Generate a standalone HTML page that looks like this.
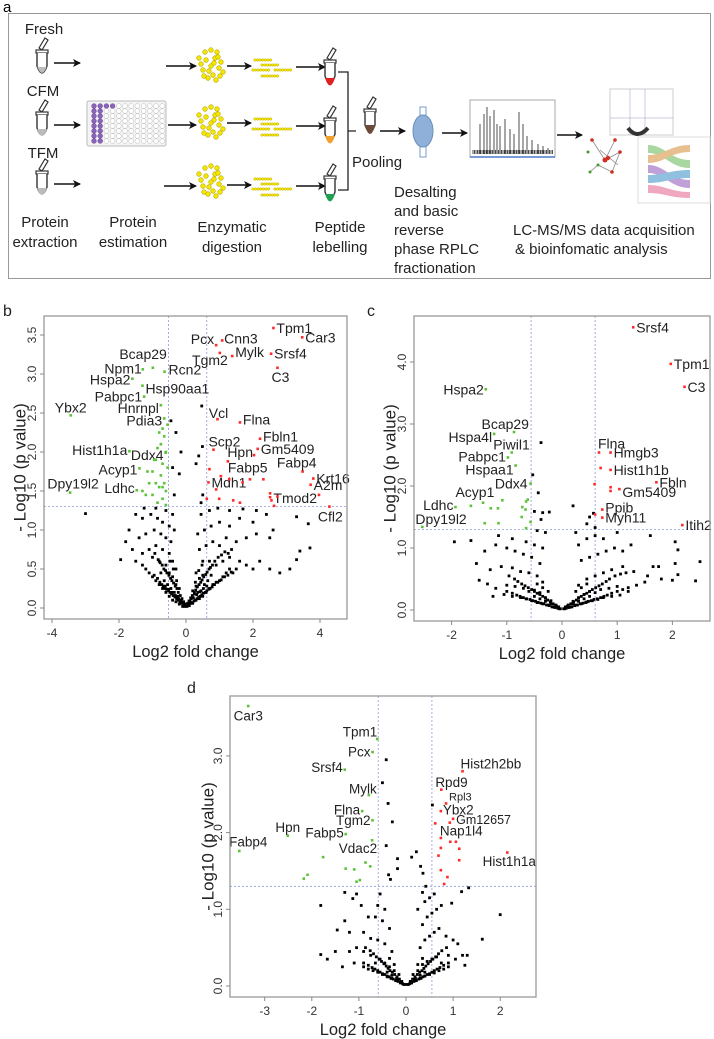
<!DOCTYPE html>
<html><head><meta charset="utf-8">
<style>
html,body{margin:0;padding:0;background:#fff;}
svg{display:block;font-family:"Liberation Sans",sans-serif;}
</style></head>
<body>
<svg id="fig" width="714" height="1039" viewBox="0 0 714 1039" xmlns="http://www.w3.org/2000/svg">
<defs>
<marker id="ah" markerWidth="8" markerHeight="8" refX="7" refY="4" orient="auto" markerUnits="userSpaceOnUse"><path d="M0,0 L8,4 L0,8 L2,4 z" fill="#111"/></marker>
<g id="tube"><path d="M-3,-14 l6,-10 l3,2 l-6,10 z" fill="#fff" stroke="#333" stroke-width="1.2"/><rect x="-6" y="-12" width="12" height="3" fill="#fff" stroke="#333" stroke-width="1.2"/><path d="M-5,-9 L-5,4 Q0,18 5,4 L5,-9" fill="#fff" stroke="#333" stroke-width="1.4"/></g>
</defs>
<g>
<text x="3" y="12" font-size="15">a</text>
<rect x="8.5" y="13.5" width="702" height="265" fill="none" stroke="#999" stroke-width="1"/>
<g font-size="15" fill="#222" text-anchor="middle">
<text x="44" y="34">Fresh</text>
<text x="43" y="96">CFM</text>
<text x="43" y="158">TFM</text>
<text x="45" y="227"><tspan x="45">Protein</tspan><tspan x="45" dy="20">extraction</tspan></text>
<text x="133" y="227"><tspan x="133">Protein</tspan><tspan x="133" dy="20">estimation</tspan></text>
<text x="232" y="232"><tspan x="232">Enzymatic</tspan><tspan x="232" dy="20">digestion</tspan></text>
<text x="340" y="232"><tspan x="340">Peptide</tspan><tspan x="340" dy="20">lebelling</tspan></text>
</g>
<g font-size="15" fill="#222">
<text x="352" y="167">Pooling</text>
<text x="394" y="197"><tspan x="394">Desalting</tspan><tspan x="394" dy="19">and basic</tspan><tspan x="394" dy="19">reverse</tspan><tspan x="394" dy="19">phase RPLC</tspan><tspan x="394" dy="19">fractionation</tspan></text>
<text x="513" y="235"><tspan x="513">LC-MS/MS data acquisition</tspan><tspan x="515" dy="19">&amp; bioinfomatic analysis</tspan></text>
</g>
<g>
<use href="#tube" x="42" y="62"/><path d="M37,67 L37,66 Q42,80 47,66 L47,67" fill="#bbb"/>
<use href="#tube" x="42" y="124"/><path d="M37,129 Q42,143 47,129 z" fill="#bbb"/>
<use href="#tube" x="42" y="183"/><path d="M37,188 Q42,202 47,188 z" fill="#bbb"/>
</g>
<g stroke="#111" stroke-width="1.6" marker-end="url(#ah)">
<line x1="54" y1="63" x2="80" y2="63"/><line x1="54" y1="125" x2="80" y2="125"/><line x1="54" y1="184" x2="80" y2="184"/>
<line x1="166" y1="66" x2="196" y2="66"/><line x1="168" y1="125" x2="196" y2="125"/><line x1="164" y1="186" x2="196" y2="186"/>
<line x1="227" y1="66" x2="251" y2="66"/><line x1="227" y1="123" x2="251" y2="123"/><line x1="227" y1="185" x2="251" y2="185"/>
<line x1="296" y1="67" x2="325" y2="67"/><line x1="296" y1="126" x2="325" y2="126"/><line x1="296" y1="186" x2="325" y2="186"/>
<line x1="380" y1="131" x2="405" y2="131"/><line x1="442" y1="133" x2="467" y2="133"/><line x1="557" y1="135" x2="582" y2="135"/>
</g>
<g>
<rect x="87" y="101" width="79" height="45" rx="2" fill="#f4f4f4" stroke="#bbb"/>
<g id="wells"></g>
</g>
<g id="proteins"></g>
<g id="peptides"></g>
<g>
<use href="#tube" x="330" y="72"/><path d="M325,78 Q330,93 335,78 z" fill="#e02020"/>
<use href="#tube" x="330" y="130"/><path d="M325,136 Q330,151 335,136 z" fill="#f0a030"/>
<use href="#tube" x="330" y="188"/><path d="M325,194 Q330,209 335,194 z" fill="#20a050"/>
</g>
<path d="M338,72 H348 V190 H338 M348,131 H356" fill="none" stroke="#222" stroke-width="1.3"/>
<g><use href="#tube" x="370" y="121"/><path d="M365,125 L365,126 Q370,142 375,126 L375,125 z" fill="#6b4a3a"/></g>
<g>
<rect x="420" y="107" width="6" height="10" fill="none" stroke="#7a9cc8"/><rect x="420" y="146" width="6" height="11" fill="none" stroke="#7a9cc8"/>
<ellipse cx="423" cy="131" rx="10" ry="16" fill="#8fb0d8" stroke="#6a8fc0"/>
</g>
<g>
<rect x="470" y="100" width="85" height="57" fill="#fff" stroke="#aaa"/>
<line x1="470" y1="157" x2="555" y2="157" stroke="#4a7ac8" stroke-width="1.5"/>
<g id="spec" stroke="#222" stroke-width="0.8"></g>
</g>
<g>
<path d="M592,140 L605,160 L620,152 L612,172 L598,165 L590,172 M605,160 L615,140 M600,150 L618,165" stroke="#888" fill="none" stroke-width="0.8"/>
<g fill="#d03020"><circle cx="592" cy="140" r="1.8"/><circle cx="605" cy="160" r="2.5"/><circle cx="620" cy="152" r="1.8"/><circle cx="612" cy="172" r="1.8"/><circle cx="615" cy="140" r="1.8"/><circle cx="608" cy="158" r="2.2"/></g>
<g fill="#4a9a30"><circle cx="590" cy="172" r="1.5"/><circle cx="598" cy="165" r="1.5"/><circle cx="588" cy="152" r="1.5"/></g>
</g>
<g>
<rect x="610" y="89" width="63" height="46" fill="#fff" stroke="#ccc"/>
<path d="M630,89 V135 M645,89 V135 M610,118 H673" stroke="#99c" stroke-width="0.5"/>
<path d="M628,128 Q637,140 648,128" stroke="#333" stroke-width="4" fill="none"/>
</g>
<g>
<rect x="638" y="137" width="72" height="66" fill="#fff" stroke="#ddd"/>
<path d="M648,145 C665,145 670,160 690,160 L690,168 C670,168 665,153 648,153z" fill="#a8d8a0"/>
<path d="M648,155 C665,155 670,145 690,145 L690,152 C670,152 665,163 648,163z" fill="#e8c090"/>
<path d="M648,165 C665,165 670,180 690,180 L690,188 C670,188 665,173 648,173z" fill="#c0a0d8"/>
<path d="M648,175 C665,175 670,170 690,170 L690,178 C670,178 665,183 648,183z" fill="#90c0e0"/>
<path d="M648,185 C665,185 670,192 690,192 L690,198 C670,198 665,193 648,193z" fill="#f0a8c0"/>
</g>
</g>

<g id="pb"></g>
<g id="pc"></g>
<g id="pd"></g>
</svg>
<script>
// ---------- Panel b data ----------
const bXTicks = [-4,-2,0,2,4];
const bYTicks = [0,0.5,1,1.5,2,2.5,3,3.5];
const bYTickLabels = ["0.0","0.5","1.0","1.5","2.0","2.5","3.0","3.5"];
const bUpNames = ["Tpm1","Car3","Pcx","Cnn3","Tgm2","Mylk","Srsf4","C3","Vcl","Flna","Fbln1","Gm5409","Scp2","Hpn","Fabp5","Fabp4","Krt16","A2m","Mdh1","Tmod2","Cfl2","","","","","","","","","","","","","","","",""];
const bUpX = [2.61,3.47,0.90,1.08,1.01,1.38,2.54,2.73,0.94,1.61,2.21,2.14,0.82,2.03,1.25,3.48,3.80,3.72,0.67,3.97,4.28,0.70,1.04,1.29,1.69,1.91,2.31,0.90,2.51,2.51,2.73,0.62,0.99,1.41,1.61,2.55,2.63];
const bUpY = [3.59,3.47,3.37,3.43,3.27,3.23,3.26,3.08,2.42,2.38,2.17,2.04,2.03,1.96,1.88,1.75,1.66,1.58,1.61,1.45,1.30,1.78,1.69,1.65,1.61,1.65,1.65,1.52,1.47,1.42,1.43,1.40,1.40,1.38,1.35,1.38,1.31];
const bDownNames = ["Bcap29","Npm1","Rcn2","Hspa2","Hsp90aa1","Pabpc1","Ybx2","Hnrnpl","Pdia3","Hist1h1a","Ddx4","Acyp1","Ldhc","Dpy19l2","","","","","","","","","","","","","","","","","","","","","","","","","",""];
const bDownX = [-0.99,-1.29,-0.64,-1.60,-1.30,-1.25,-3.44,-0.75,-0.65,-1.69,-0.61,-1.39,-1.47,-3.46,-0.7,-0.65,-0.8,-0.75,-0.85,-0.6,-0.9,-0.7,-0.55,-1.0,-0.75,-0.65,-0.9,-1.1,-0.8,-0.6,-1.0,-0.7,-0.85,-0.6,-1.2,-0.95,-0.55,-1.3,-1.15,-0.7];
const bDownY = [3.08,3.06,3.03,2.94,2.85,2.71,2.47,2.60,2.43,2.01,1.99,1.79,1.51,1.48,2.3,2.2,2.25,2.1,2.05,2.0,1.9,1.85,1.8,1.75,1.7,1.6,1.6,1.6,1.55,1.5,1.45,1.4,1.35,1.32,1.45,1.9,2.35,1.5,1.75,1.55];
const bNsX = [-0.1,0.1,-0.2,0.2,-0.3,0.3,-0.4,0.4,-0.5,0.5,-0.15,0.15,-0.25,0.25,-0.35,0.35,-0.45,0.45,-0.6,0.6,-0.7,0.7,-0.8,0.8,-0.55,0.55,-0.65,0.65,-0.9,0.9,-1.0,1.0,-0.3,0.3,-0.4,0.4,-0.5,0.5,-0.75,0.75,-1.1,1.1,-1.2,1.2,1.3,-1.3,1.4,1.5,-0.2,0.2,
 -0.6,-0.8,-1.0,-0.4,-0.5,-0.7,-0.9,-1.1,-1.3,-1.5,-1.6,-1.8,-1.95,-0.3,-0.45,-0.6,-0.75,-0.95,-1.2,-1.4,-1.7,-0.35,-0.5,-0.7,-0.85,-1.05,-1.3,-1.5,-0.4,-0.6,-0.9,-1.25,
 0.3,0.5,0.7,0.9,1.1,1.3,1.6,1.8,2.0,2.2,2.5,2.8,3.1,3.3,0.4,0.6,0.8,1.0,1.2,1.5,1.8,2.1,2.5,3.4,3.7,0.35,0.55,0.75,1.0,1.3,1.6,2.0,2.4,2.6,3.3,3.65,0.45,0.7,0.95,1.3,1.7,2.1,
 -0.45,0.47,0.49,0.38,-0.4,-0.15,-0.2,-0.3,-3.0,0.5,0.45,-0.35,0.3,
 -0.05,0.05,-0.12,0.12,-0.22,0.22,-0.32,0.32,-0.42,0.42,-0.52,0.52,-0.62,0.62,-0.28,0.28,-0.38,0.38,-0.48,0.48];
const bNsY = [0.02,0.03,0.05,0.06,0.08,0.1,0.1,0.12,0.15,0.15,0.1,0.12,0.15,0.18,0.2,0.2,0.25,0.22,0.2,0.2,0.25,0.25,0.3,0.3,0.3,0.3,0.35,0.35,0.35,0.33,0.4,0.35,0.3,0.28,0.4,0.38,0.45,0.42,0.45,0.42,0.45,0.4,0.5,0.45,0.5,0.55,0.45,0.5,0.25,0.22,
 0.55,0.6,0.65,0.6,0.7,0.75,0.8,0.75,0.7,0.6,0.75,0.85,0.62,0.5,0.85,0.9,0.95,1.0,0.95,0.9,1.0,1.0,1.05,1.1,1.15,1.2,1.15,1.2,1.2,1.25,1.28,1.28,
 0.45,0.6,0.6,0.55,0.6,0.65,0.6,0.55,0.5,0.6,0.5,0.45,0.5,0.62,0.75,0.8,0.85,0.8,0.9,0.85,0.9,0.95,0.9,0.73,0.77,0.95,1.0,1.05,1.1,1.05,1.15,1.1,1.2,1.0,1.17,1.08,1.2,1.25,1.28,1.25,1.27,1.25,
 2.4,2.59,2.07,1.95,1.8,2.0,1.72,2.25,1.21,1.45,1.35,1.45,1.85,
 0.05,0.06,0.08,0.09,0.12,0.13,0.16,0.17,0.2,0.21,0.24,0.25,0.28,0.28,0.35,0.33,0.5,0.48,0.6,0.55];
const bDenseX = [-0.95,-0.85,-0.78,-0.72,-0.68,-0.62,-0.58,-0.52,-0.47,-0.43,-0.38,-0.33,-0.28,-0.24,-0.18,-0.13,-0.08,-0.03,0.03,0.08,0.13,0.18,0.24,0.28,0.33,0.38,0.43,0.47,0.52,0.58,0.62,0.68,0.72,0.78,0.85,0.95,1.05,1.15,1.25,1.35,
 -0.93,-0.83,-0.77,-0.71,-0.66,-0.61,-0.57,-0.51,-0.46,-0.42,-0.37,-0.32,-0.27,-0.23,-0.17,-0.12,-0.07,-0.02,0.04,0.09,0.14,0.19,0.25,0.29,0.34,0.39,0.44,0.48,0.53,0.59,0.63,0.69,0.73,0.79,0.86,0.96,1.06,1.16,1.26,1.36];
const bDenseY = [0.42,0.38,0.33,0.3,0.28,0.25,0.24,0.22,0.2,0.18,0.16,0.14,0.12,0.1,0.08,0.06,0.04,0.02,0.02,0.04,0.06,0.07,0.09,0.1,0.12,0.14,0.15,0.17,0.19,0.2,0.22,0.24,0.25,0.27,0.3,0.33,0.36,0.4,0.42,0.46,
 0.7,0.62,0.58,0.55,0.5,0.48,0.45,0.42,0.38,0.35,0.32,0.28,0.25,0.2,0.16,0.12,0.08,0.05,0.05,0.09,0.13,0.16,0.2,0.23,0.27,0.3,0.33,0.36,0.4,0.43,0.46,0.5,0.52,0.55,0.6,0.65,0.68,0.72,0.7,0.75];

// ---------- Panel c data ----------
const cXTicks = [-2,-1,0,1,2];
const cYTicks = [0,1,2,3,4];
const cYTickLabels = ["0.0","1.0","2.0","3.0","4.0"];
const cUpNames = ["Srsf4","Tpm1","C3","Flna","Hmgb3","","Hist1h1b","Fbln","Gm5409","","","","Ppib","Myh11","","Itih2"];
const cUpX = [1.29,1.97,2.22,0.67,0.88,0.70,0.88,1.71,1.04,0.88,0.88,0.59,0.73,0.73,0.60,2.18];
const cUpY = [4.56,3.97,3.60,2.54,2.54,2.29,2.26,2.06,1.95,1.98,1.92,2.03,1.62,1.49,1.54,1.37];
const cDownNames = ["Hspa2","Bcap29","Hspa4l","Piwil1","Pabpc1","Hspaa1","Ddx4","Acyp1","Ldhc","Dpy19l2","","","","","","","","","","","","",""];
const cDownX = [-1.38,-0.87,-1.23,-0.91,-0.98,-0.84,-0.57,-1.65,-1.93,-2.53,-1.43,-1.29,-1.16,-1.08,-1.40,-1.15,-0.72,-0.65,-0.62,-0.73,-0.57,-0.65,-0.66];
const cDownY = [3.56,2.87,2.84,2.54,2.46,2.33,2.04,1.68,1.66,1.34,1.73,1.64,1.64,1.77,1.40,1.40,1.66,1.75,1.78,1.50,1.42,1.32,1.62];
const cNsX = [-0.38,-0.53,-0.43,0.20,-0.50,-0.35,-0.23,-0.38,0.57,0.45,0.60,0.5,
 -0.05,0.05,-0.15,0.15,-0.25,0.25,-0.35,0.35,-0.45,0.45,-0.55,0.55,-0.65,0.65,-0.75,0.75,-0.9,0.9,-1.05,1.05,-0.2,0.2,-0.3,0.3,-0.4,0.4,-0.5,0.5,-0.6,0.6,-0.7,0.7,-0.85,0.85,-1.0,1.0,-1.2,1.2,-1.35,1.35,-1.5,1.5,-0.35,0.3,-0.45,0.45,-0.6,0.6,-0.75,0.75,-0.9,0.9,-1.1,1.1,-1.3,1.3,-1.55,1.55,1.8,2.0,2.1,2.42,2.5,1.65,1.75,2.05,-1.25,-1.4,-0.4,-0.55,-0.7,-0.85,-1.0,-1.2,-1.65,-1.95,0.35,0.5,0.65,0.8,0.95,1.1,1.25,1.6,2.05,2.1,-0.35,-0.5,-0.65,-0.9,-1.15,0.3,0.45,0.6,0.75,1.0,-0.3,-0.45,0.25,
 -0.1,0.1,-0.2,0.2,-0.3,0.3,-0.4,0.4,-0.5,0.5,-0.25,0.25,-0.35,0.35,-0.45,0.45];
const cNsY = [2.70,2.18,1.89,1.68,1.59,1.57,1.58,1.46,1.56,1.39,1.33,1.5,
 0.02,0.02,0.05,0.05,0.08,0.08,0.1,0.1,0.12,0.13,0.15,0.15,0.18,0.17,0.2,0.2,0.22,0.22,0.25,0.24,0.15,0.14,0.2,0.2,0.28,0.25,0.32,0.3,0.3,0.28,0.35,0.33,0.38,0.35,0.4,0.38,0.35,0.3,0.42,0.4,0.48,0.45,0.45,0.4,0.55,0.5,0.6,0.55,0.62,0.6,0.68,0.65,0.7,0.7,0.65,0.62,0.75,0.55,0.5,0.48,0.57,0.47,0.78,0.7,0.7,0.75,0.22,0.95,0.75,0.85,0.9,0.95,1.0,1.05,1.12,1.1,0.8,0.85,0.9,0.95,1.0,0.95,1.05,1.2,1.1,0.97,1.0,1.05,1.1,1.15,1.2,1.05,1.15,1.2,1.15,1.25,1.25,1.28,1.25,
 0.06,0.06,0.1,0.1,0.14,0.14,0.18,0.18,0.22,0.22,0.3,0.3,0.36,0.36,0.42,0.42];
const cDenseX = [-1.0,-0.9,-0.82,-0.76,-0.7,-0.64,-0.58,-0.53,-0.48,-0.43,-0.38,-0.33,-0.28,-0.23,-0.18,-0.13,-0.08,-0.03,0.03,0.08,0.13,0.18,0.23,0.28,0.33,0.38,0.43,0.48,0.53,0.58,0.64,0.7,0.76,0.82,0.9,1.0,1.1,1.2,
 -0.96,-0.86,-0.8,-0.73,-0.67,-0.61,-0.55,-0.5,-0.45,-0.4,-0.35,-0.3,-0.26,-0.21,-0.16,-0.11,-0.06,0.06,0.11,0.16,0.21,0.26,0.3,0.35,0.4,0.45,0.5,0.55,0.61,0.67,0.73,0.8,0.86,0.96,1.06,1.16];
const cDenseY = [0.3,0.27,0.24,0.22,0.2,0.18,0.17,0.15,0.14,0.12,0.11,0.1,0.08,0.07,0.05,0.04,0.03,0.02,0.02,0.03,0.04,0.05,0.07,0.08,0.1,0.11,0.12,0.14,0.15,0.17,0.18,0.2,0.22,0.24,0.27,0.3,0.33,0.36,
 0.55,0.5,0.46,0.42,0.39,0.36,0.33,0.3,0.27,0.25,0.22,0.19,0.16,0.13,0.1,0.08,0.05,0.05,0.08,0.1,0.13,0.16,0.19,0.22,0.25,0.27,0.3,0.33,0.36,0.39,0.42,0.46,0.5,0.55,0.58,0.6];

// ---------- Panel d data ----------
const dXTicks = [-3,-2,-1,0,1,2];
const dYTicks = [0,1,2,3];
const dYTickLabels = ["0.0","1.0","2.0","3.0"];
const dUpNames = ["Hist2h2bb","Rpd9","Rpl3","Ybx2","Gm12657","","","Nap1l4","","","","","","","","","","Hist1h1a"];
const dUpX = [1.20,0.75,0.85,0.74,1.00,0.93,0.62,0.74,0.94,1.06,0.74,1.13,0.69,1.13,0.74,0.88,0.81,2.15];
const dUpY = [2.80,2.56,2.38,2.28,2.18,2.13,2.12,1.93,1.88,1.88,1.80,1.79,1.70,1.64,1.51,1.42,1.33,1.74];
const dDownNames = ["Car3","Tpm1","Pcx","Srsf4","Mylk","Flna","Tgm2","Hpn","Fabp5","Fabp4","Vdac2","","","","","","","","",""];
const dDownX = [-3.35,-0.61,-0.71,-1.30,-0.79,-0.93,-0.71,-2.51,-1.28,-3.54,-0.72,-1.76,-1.28,-1.10,-0.86,-0.76,-2.17,-2.09,-1.05,-0.98];
const dDownY = [3.65,3.22,3.05,2.82,2.49,2.28,2.16,1.96,1.98,1.76,1.90,1.68,1.53,1.52,1.61,1.56,1.40,1.45,1.36,1.38];
const dNsX = [-0.42,-0.50,-0.38,-0.29,-0.42,0.56,0.22,0.12,-0.18,-0.18,-0.37,-0.33,0.31,0.36,0.42,1.33,-1.81,2.0,1.18,0.97,1.62,-1.81,-1.67,-1.46,-1.30,-1.13,
 -0.05,0.05,-0.12,0.12,-0.2,0.2,-0.3,0.3,-0.4,0.4,-0.5,0.5,-0.6,0.6,-0.7,0.7,-0.8,0.8,-0.9,0.9,-0.15,0.15,-0.25,0.25,-0.35,0.35,-0.45,0.45,-0.55,0.55,-0.65,0.65,-0.75,0.75,-0.9,0.9,-1.1,1.05,-1.2,1.2,-1.35,1.3,1.25,-0.3,0.3,-0.45,0.4,-0.6,0.5,-0.75,0.6,-0.9,0.7,-1.05,0.85,-1.2,1.0,1.1,-1.5,-0.35,0.35,-0.5,0.45,-0.65,0.55,-0.8,0.65,-1.3,0.75,-0.45,0.4,-0.6,0.5,-0.95,0.6,-1.05,0.35,-0.55,0.25,
 -0.1,0.1,-0.2,0.2,-0.3,0.3,-0.4,0.4,-0.25,0.25,-0.35,0.35];
const dNsY = [2.95,2.65,2.38,2.14,1.83,2.36,1.75,1.68,1.66,1.53,1.45,1.39,1.56,1.47,1.3,1.28,1.05,0.93,1.23,1.08,0.61,0.41,0.35,0.73,1.22,1.14,
 0.02,0.02,0.05,0.05,0.08,0.08,0.1,0.1,0.12,0.13,0.15,0.15,0.18,0.17,0.2,0.2,0.22,0.22,0.25,0.25,0.15,0.15,0.2,0.2,0.25,0.28,0.3,0.32,0.35,0.35,0.3,0.38,0.4,0.3,0.45,0.4,0.3,0.35,0.45,0.4,0.25,0.4,0.27,0.45,0.5,0.55,0.6,0.6,0.65,0.62,0.7,0.7,0.75,0.5,0.65,0.7,0.6,0.55,0.45,0.75,0.8,0.85,0.9,0.9,0.95,0.9,1.0,0.85,1.05,1.0,1.1,1.05,1.15,1.05,1.2,1.2,1.22,1.2,1.0,
 0.06,0.06,0.1,0.1,0.14,0.14,0.18,0.18,0.28,0.28,0.36,0.36];
const dDenseX = [-0.9,-0.8,-0.72,-0.66,-0.6,-0.55,-0.5,-0.45,-0.4,-0.36,-0.32,-0.27,-0.22,-0.17,-0.12,-0.07,-0.02,0.03,0.08,0.12,0.17,0.22,0.27,0.32,0.36,0.4,0.45,0.5,0.55,0.6,0.66,0.72,0.8,0.9,
 -0.86,-0.76,-0.69,-0.63,-0.57,-0.52,-0.47,-0.42,-0.38,-0.34,-0.29,-0.24,-0.19,-0.14,-0.09,0.09,0.14,0.19,0.24,0.29,0.34,0.38,0.42,0.47,0.52,0.57,0.63,0.69,0.76,0.86];
const dDenseY = [0.3,0.27,0.24,0.22,0.2,0.18,0.16,0.15,0.13,0.12,0.1,0.09,0.07,0.06,0.04,0.03,0.02,0.02,0.03,0.04,0.06,0.07,0.09,0.1,0.12,0.13,0.15,0.16,0.18,0.2,0.22,0.24,0.27,0.3,
 0.5,0.46,0.42,0.38,0.35,0.32,0.29,0.26,0.23,0.2,0.18,0.15,0.12,0.09,0.06,0.06,0.09,0.12,0.15,0.18,0.2,0.23,0.26,0.29,0.32,0.35,0.38,0.42,0.46,0.5];

// ---------- label layouts (pixel offsets, not data) ----------
const bUpLay = [[3,0,"start"],[3,0,"start"],[-2,-6,"end"],[2,-2,"start"],[8,7,"end"],[3,-4,"start"],[3,0,"start"],[3,9,"middle"],[1,-6,"middle"],[3,-3,"start"],[3,-2,"start"],[3,0,"start"],[-5,-8,"start"],[-1,-3,"end"],[0,6,"start"],[14,-9,"end"],[3,0,"start"],[3,0,"start"],[3,0,"start"],[-2,3,"end"],[1,10,"middle"]];
const bDownLay = [[14,-14,"end"],[-1,-1,"end"],[4,-2,"start"],[-2,1,"end"],[3,3,"start"],[-2,0,"end"],[0,-8,"middle"],[-2,3,"end"],[-2,2,"end"],[-2,-1,"end"],[-2,2,"end"],[-2,1,"end"],[-2,-2,"end"],[3,-9,"middle"]];
const cUpLay = [[3,0,"start"],[3,0,"start"],[3,0,"start"],[-1,-9,"start"],[3,0,"start"],null,[3,0,"start"],[3,0,"start"],[3,3,"start"],null,null,null,[3,-2,"start"],[3,0,"start"],null,[3,0,"start"]];
const cDownLay = [[-2,0,"end"],[15,-8,"end"],[-2,3,"end"],[18,-8,"end"],[-2,-1,"end"],[-2,4,"end"],[-3,0,"end"],[4,-14,"middle"],[-2,-2,"end"],[-7,-8,"start"]];
const dUpLay = [[-2,-7,"start"],[-6,-7,"start"],[3,-6,"start"],[2,-1,"start"],[3,1,"start"],null,null,[-1,-7,"start"],null,null,null,null,null,null,null,null,null,[2,9,"middle"]];
const dDownLay = [[0,10,"middle"],[0,-7,"end"],[-2,0,"end"],[-2,-2,"end"],[8,-6,"end"],[-2,-1,"end"],[-2,0,"end"],[0,-8,"middle"],[-2,-1,"end"],[9,-9,"middle"],[5,8,"end"]];

const NS = "http://www.w3.org/2000/svg";
function mk(tag, attrs, parent){ const e=document.createElementNS(NS,tag); for(const k in attrs) e.setAttribute(k,attrs[k]); if(parent) parent.appendChild(e); return e; }

function drawPanel(g, cfg, xTicks, yTicks, yTickLabels, nsX, nsY, upN, upX, upY, upLay, dnN, dnX, dnY, dnLay){
  const sx = v => cfg.x0 + v*cfg.kx;
  const sy = v => cfg.y0 - v*cfg.ky;
  const [L,T,R,B] = cfg.box;
  const lab = mk("text",{x:cfg.letter[0],y:cfg.letter[1],"font-size":16,fill:"#222"},g);
  lab.textContent = cfg.letterText;
  
  
  cfg.vthr.forEach(v=>{
    const l = mk("line",{x1:sx(v),x2:sx(v),y1:T,y2:B,stroke:"#8a9ae0","stroke-width":0.8,"stroke-dasharray":"2,2"},g);
    
    
  });
  const h = mk("line",{x1:L,x2:R,y1:sy(cfg.hthr),y2:sy(cfg.hthr),stroke:"#8a9ae0","stroke-width":0.8,"stroke-dasharray":"2,2"},g);
  
  
  const ptsG = mk("g",{},g);
  
  
  for(let i=0;i<nsX.length;i++){
    const p = mk("rect",{x:sx(nsX[i])-1.4,y:sy(nsY[i])-1.4,width:2.8,height:2.8,fill:"#000"},ptsG);
    
    
  }
  function group(names,xs,ys,lay,color,gname){
    const gg = mk("g",{},g);
    
    
    for(let i=0;i<xs.length;i++){
      const px=sx(xs[i]), py=sy(ys[i]);
      const p = mk("rect",{x:px-1.3,y:py-1.3,width:2.6,height:2.6,fill:color},gg);
      
      
      if(names[i] && lay[i]){
        const fs = (names[i]==="Rpl3")?11:(names[i]==="Gm12657"?12.5:cfg.lfs);
        const t = mk("text",{x:px+lay[i][0],y:py+lay[i][1],"text-anchor":lay[i][2],"dominant-baseline":"central","font-size":fs,fill:"#222"},gg);
        t.textContent = names[i];
        
        
      }
    }
  }
  group(dnN,dnX,dnY,dnLay,"#5cc23a","downregulated-points");
  group(upN,upX,upY,upLay,"#ff2a2a","upregulated-points");
  const box = mk("rect",{x:L,y:T,width:R-L,height:B-T,fill:"none",stroke:"#999","stroke-width":1.3},g);
  
  
  const xa = mk("g",{},g);
  
  
  xTicks.forEach(v=>{
    mk("line",{x1:sx(v),x2:sx(v),y1:B,y2:B+4,stroke:"#888"},xa);
    const t = mk("text",{x:sx(v),y:B+18,"text-anchor":"middle","font-size":12,fill:"#333"},xa);
    t.textContent = String(v);
    
    
  });
  const xt = mk("text",{x:(L+R)/2,y:B+38,"text-anchor":"middle","font-size":16.5,fill:"#222"},g);
  xt.textContent = "Log2 fold change";
  
  
  const ya = mk("g",{},g);
  
  
  yTicks.forEach((v,i)=>{
    mk("line",{x1:L-4,x2:L,y1:sy(v),y2:sy(v),stroke:"#888"},ya);
    const x=L-8, y=sy(v);
    const t = mk("text",{x:x,y:y,"text-anchor":"middle","font-size":12,fill:"#333",transform:`rotate(-90 ${x} ${y})`},ya);
    t.textContent = yTickLabels[i];
    
    
  });
  const yx=cfg.ytx, yy=(T+B)/2;
  const yt = mk("text",{x:yx,y:yy,"text-anchor":"middle","dominant-baseline":"central","font-size":17,fill:"#222",transform:`rotate(-90 ${yx} ${yy})`},g);
  yt.textContent = "- Log10 (p value)";
  
  
}

drawPanel(document.getElementById("pb"),
  {box:[44,316,347,619],x0:186,kx:33.5,y0:608,ky:78,vthr:[-0.52,0.62],hthr:1.3,letter:[3,316],letterText:"b",ytx:20,lfs:14},
  bXTicks,bYTicks,bYTickLabels,bNsX.concat(bDenseX),bNsY.concat(bDenseY),bUpNames,bUpX,bUpY,bUpLay,bDownNames,bDownX,bDownY,bDownLay);
drawPanel(document.getElementById("pc"),
  {box:[414,316,710,621],x0:562,kx:55.2,y0:610,ky:62,vthr:[-0.56,0.6],hthr:1.3,letter:[367,316],letterText:"c",ytx:390,lfs:14},
  cXTicks,cYTicks,cYTickLabels,cNsX.concat(cDenseX),cNsY.concat(cDenseY),cUpNames,cUpX,cUpY,cUpLay,cDownNames,cDownX,cDownY,cDownLay);
drawPanel(document.getElementById("pd"),
  {box:[230,696,536,997],x0:406,kx:47.1,y0:986,ky:76.7,vthr:[-0.59,0.55],hthr:1.3,letter:[187,693],letterText:"d",ytx:208,lfs:13.5},
  dXTicks,dYTicks,dYTickLabels,dNsX.concat(dDenseX),dNsY.concat(dDenseY),dUpNames,dUpX,dUpY,dUpLay,dDownNames,dDownX,dDownY,dDownLay);

(function(){
  const wells = document.getElementById("wells");
  for(let r=0;r<8;r++) for(let c=0;c<12;c++){
    const filled = c<2 || (r===0 && c<4);
    mk("circle",{cx:94+c*6.2,cy:106+r*5,r:2.4,fill:filled?"#8a64b8":"#fff",stroke:filled?"#6a4a98":"#bbb","stroke-width":0.5},wells);
  }
  const prot = document.getElementById("proteins");
  const blob = [[0,0],[4,-8],[-5,-6],[8,2],[-8,4],[2,9],[-3,12],[6,-14],[-6,-14],[10,-4],[-10,-2],[0,-16],[5,14],[-7,10],[9,10],[12,6],[-12,-8],[3,-3],[-2,5],[7,-9]];
  [66,123,182].forEach(cy=>{
    blob.forEach(b=>mk("circle",{cx:211+b[0],cy:cy+b[1],r:2.3,fill:"#f5e600",stroke:"#b8a800","stroke-width":0.6},prot));
  });
  const pep = document.getElementById("peptides");
  const rows=[[255,-6,7],[262,-1,7],[253,4,7],[275,4,7],[262,10,7]];
  [66,125,185].forEach(cy=>{
    rows.forEach(r=>{ for(let k=0;k<r[2];k++) mk("circle",{cx:r[0]+k*2.6,cy:cy+r[1],r:1.3,fill:"#f5e600",stroke:"#b8a800","stroke-width":0.4},pep); });
  });
  const spec = document.getElementById("spec");
  const peaks=[[480,30],[484,40],[487,47],[490,38],[494,44],[497,30],[500,28],[505,35],[510,25],[514,20],[519,42],[523,30],[527,18],[532,14],[538,10],[543,8],[548,6]];
  peaks.forEach(p=>mk("line",{x1:p[0],x2:p[0],y1:154,y2:154-p[1]},spec));
  for(let x=473;x<553;x+=1.5) mk("line",{x1:x,x2:x,y1:154,y2:150},spec);
})();
</script>
</body></html>
